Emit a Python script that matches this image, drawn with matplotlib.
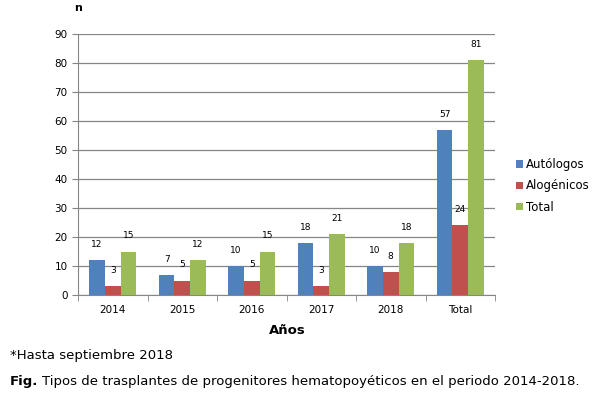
import matplotlib
matplotlib.use("Agg")
import matplotlib.pyplot as plt
import numpy as np

categories = ["2014", "2015", "2016", "2017", "2018", "Total"]
autologos = [12, 7, 10, 18, 10, 57]
alogenicos = [3, 5, 5, 3, 8, 24]
total = [15, 12, 15, 21, 18, 81]
series_names = ["Autólogos", "Alogénicos", "Total"]
colors = ["#4F81BD", "#C0504D", "#9BBB59"]

plt.rcParams['font.family'] = ['DejaVu Sans']

fig = plt.figure(figsize=(6.02, 3.98), dpi=100)
ax = fig.add_axes([78/602, 1-295/398, 417/602, 261/398])

x = np.arange(len(categories))
w = 0.225
for i, (vals, name, c) in enumerate(zip([autologos, alogenicos, total], series_names, colors)):
    pos = x + (i - 1) * w
    ax.bar(pos, vals, width=w, color=c, label=name, zorder=3)
    for xp, v in zip(pos, vals):
        ax.annotate(str(v), (xp, v), xytext=(0, 8), textcoords="offset points",
                    ha="center", va="bottom", fontsize=6.5)

ax.set_ylim(0, 90)
ax.set_xlim(-0.5, len(categories) - 0.5)
ax.set_yticks(range(0, 91, 10))
ax.yaxis.grid(True, color="#868686", linewidth=0.9, zorder=0)
ax.set_axisbelow(True)
for s in ["top", "right"]:
    ax.spines[s].set_visible(False)
for s in ["left", "bottom"]:
    ax.spines[s].set_color("#868686")
ax.set_xticks(x)
ax.set_xticklabels(categories, fontsize=7.5)
ax.tick_params(axis="x", length=0, pad=7)
ax.set_xticks(np.arange(-0.5, len(categories), 1), minor=True)
ax.tick_params(axis="x", which="minor", length=4, color="#868686", direction="out")
ax.tick_params(axis="y", labelsize=7.5, length=4, color="#868686")

fig.text(74/602, 1-8/398, "n", fontsize=8, fontweight="bold", ha="left", va="center")
fig.text(287/602, 1-331/398, "Años", fontsize=9.5, fontweight="bold", ha="center", va="center")

leg = fig.legend(loc="center left", bbox_to_anchor=(516/602, 1-186/398), frameon=False,
                 fontsize=8.5, handlelength=0.6, handleheight=0.6, handletextpad=0.25,
                 labelspacing=0.7, borderaxespad=0, borderpad=0)

fig.text(10/602, 1-356/398, "*Hasta septiembre 2018", fontsize=9.5, ha="left", va="center")
t1 = fig.text(10/602, 1-381/398, "Fig.", fontsize=9.5, fontweight="bold", ha="left", va="center")
fig.canvas.draw()
bb = t1.get_window_extent()
fig.text((bb.x1 + 4) / 602, 1-381/398,
         "Tipos de trasplantes de progenitores hematopoyéticos en el periodo 2014-2018.",
         fontsize=9.5, ha="left", va="center")

fig.savefig("out.png", dpi=100)
